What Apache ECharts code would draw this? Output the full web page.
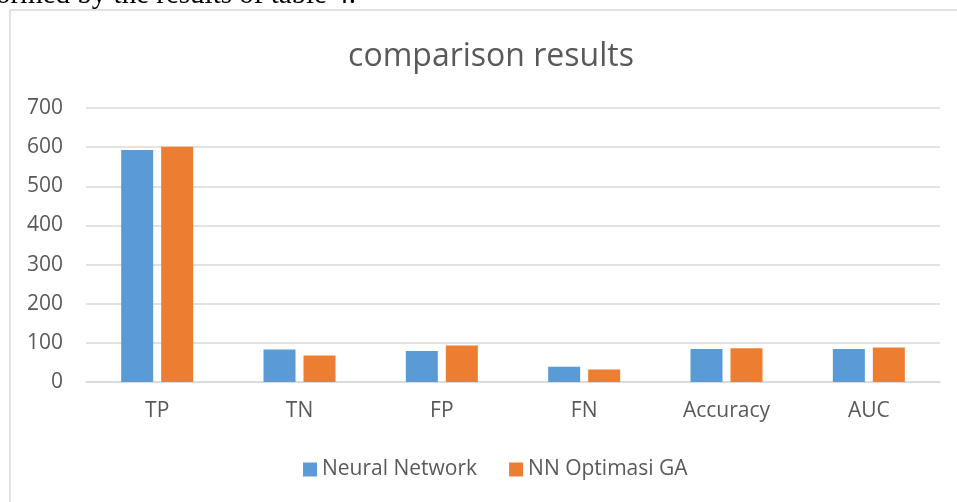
<!DOCTYPE html>
<html>
<head>
<meta charset="utf-8">
<script src="https://cdn.jsdelivr.net/npm/echarts@6/dist/echarts.min.js"></script>
<style>
  html, body { margin: 0; padding: 0; background: #fff; }
  #chart { width: 957px; height: 502px; }
</style>
</head>
<body>
<div id="chart"></div>
<script>
// chart data
const categories = ["TP", "TN", "FP", "FN", "Accuracy", "AUC"];
const neuralNetwork = [593, 83, 79, 39, 84, 84.5];
const nnOptimasiGA = [601, 68, 93, 32, 86, 88];
const yTicks = [0, 100, 200, 300, 400, 500, 600, 700];

const myChart = echarts.init(document.getElementById("chart"));
const font = "'Open Sans', 'Noto Sans', sans-serif";

const option = {
  animation: false,
  color: ["#5b9bd5", "#ed7d31"],
  title: {
    text: "comparison results",
    left: 486,
    textAlign: "center",
    top: 36,
    textStyle: { color: "#595959", fontSize: 32, fontWeight: "normal", fontFamily: font }
  },
  graphic: [
    {
      type: "rect",
      shape: { x: 10, y: 10, width: 980, height: 520 },
      style: { fill: "none", stroke: "#d9d9d9", lineWidth: 1.5 },
      silent: true
    },
    {
      type: "text",
      left: -4,
      top: -19,
      style: {
        text: "ormed by the results of table 4.",
        fill: "#000",
        font: "29px 'Liberation Serif', 'Times New Roman', serif"
      },
      silent: true
    }
  ],
  legend: {
    data: ["Neural Network", "NN Optimasi GA"],
    bottom: 17,
    left: 298,
    itemWidth: 14,
    itemHeight: 14,
    itemGap: 32,
    icon: "rect",
    textStyle: { color: "#595959", fontSize: 21, fontFamily: font }
  },
  grid: { left: 86, right: 17, top: 108, bottom: 120 },
  xAxis: {
    type: "category",
    data: categories,
    axisLine: { lineStyle: { color: "#d9d9d9", width: 1.5 } },
    axisTick: { show: false },
    axisLabel: { color: "#595959", fontSize: 21, margin: 19, fontFamily: font }
  },
  yAxis: {
    type: "value",
    min: yTicks[0],
    max: yTicks[yTicks.length - 1],
    interval: 100,
    axisLine: { show: false },
    axisTick: { show: false },
    axisLabel: { color: "#595959", fontSize: 21, margin: 23, fontFamily: font },
    splitLine: { lineStyle: { color: "#d9d9d9", width: 1.5 } }
  },
  series: [
    {
      name: "Neural Network",
      type: "bar",
      barWidth: 32,
      barGap: "25%",
      data: neuralNetwork
    },
    {
      name: "NN Optimasi GA",
      type: "bar",
      barWidth: 32,
      barGap: "25%",
      data: nnOptimasiGA
    }
  ]
};

myChart.setOption(option);
</script>
</body>
</html>
